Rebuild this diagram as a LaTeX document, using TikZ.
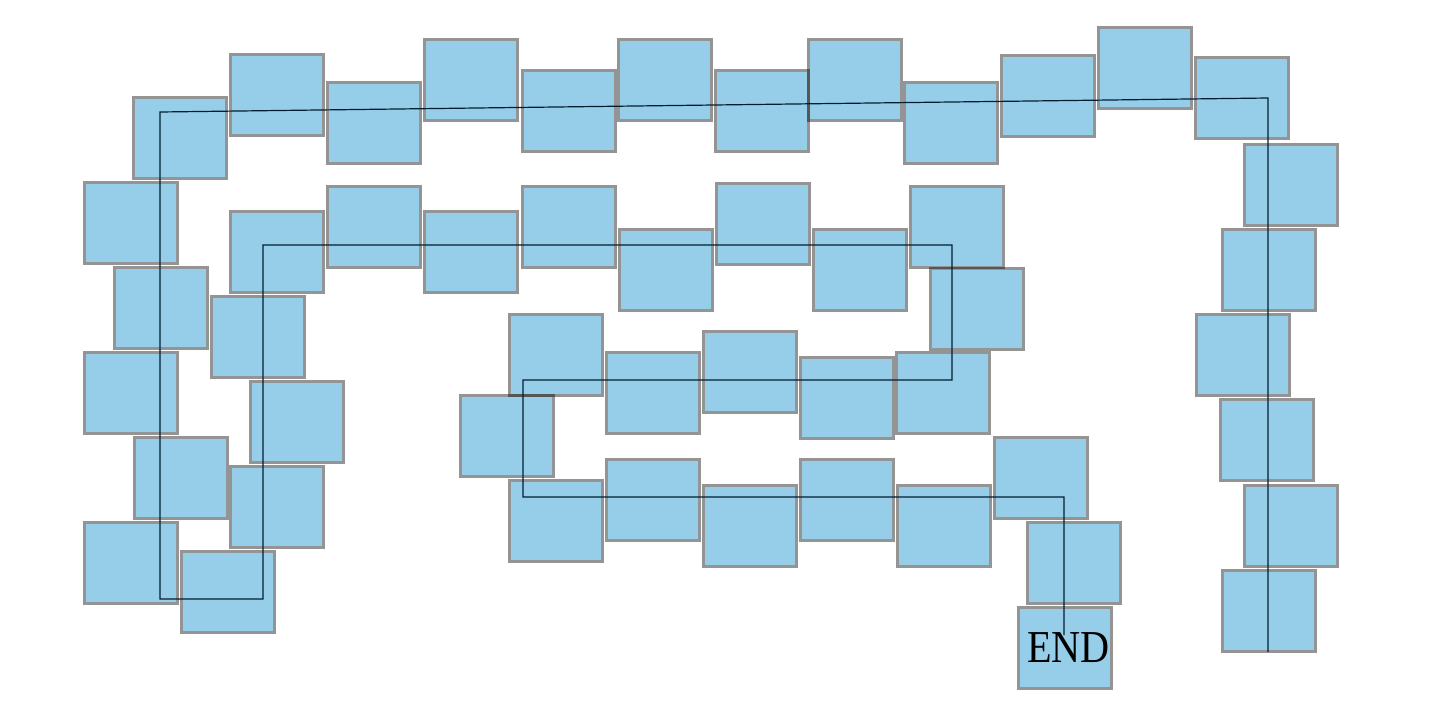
\documentclass[tikz,border=0pt]{standalone}
\usepackage{fontspec}
\setmainfont{Liberation Serif}
\definecolor{tilefill}{RGB}{150,205,233}
\definecolor{routeline}{RGB}{0,30,48}

\begin{document}
\begin{tikzpicture}[x=0.02cm, y=-0.02cm, line join=miter,
	tile/.style={rectangle, fill=tilefill, inner sep=0pt, outer sep=0.025cm,
		minimum width=1.81cm, minimum height=1.57cm},
	tilerim/.style={draw=black, draw opacity=0.42, line width=0.05cm},
	route/.style={draw=routeline, line width=0.024cm}]
	
	\useasboundingbox (0,0) rectangle (1437,717);
	
	%========================
	% tiles, from the bottom right round to END
	%========================
	\foreach \n/\x/\y in {
		1/1269/611, 2/1291/526, 3/1267/440, 4/1243/355, 5/1269/270,
		6/1291/185, 7/1242/98, 8/1145/68, 9/1048/96, 10/951/123,
		11/855/80, 12/762/111, 13/665/80, 14/569/111, 15/471/80,
		16/374/123, 17/277/95, 18/180/138, 19/131/223, 20/161/308,
		21/131/393, 22/181/478, 23/131/563, 24/228/592, 25/277/507,
		26/297/422, 27/258/337, 28/277/252, 29/374/227, 30/471/252,
		31/569/227, 32/666/270, 33/763/224, 34/860/270, 35/957/227,
		36/977/309, 37/943/393, 38/847/398, 39/750/372, 40/653/393,
		41/556/355, 42/507/436, 43/556/521, 44/653/500, 45/750/526,
		46/847/500, 47/944/526, 48/1041/478, 49/1074/563}
	\node[tile] (t\n) at (\x,\y) {};
	\node[tile, font=\fontsize{26}{26}\selectfont] (t50) at (1065,648) {\hspace{4pt}\scalebox{0.88}[1]{END}};
	
	% borders on top, so that overlaps show
	\foreach \n in {1,...,50}
	\draw[tilerim] (t\n.south west) rectangle (t\n.north east);
	
	%========================
	% route through the tiles
	%========================
	\coordinate (r0) at (1268,652);
	\coordinate (r1) at (1268,98);
	\coordinate (r2) at (160,112);
	\coordinate (r3) at (160,599);
	\coordinate (r4) at (263,599);
	\coordinate (r5) at (263,245);
	\coordinate (r6) at (952,245);
	\coordinate (r7) at (952,380);
	\coordinate (r8) at (523,380);
	\coordinate (r9) at (523,497);
	\coordinate (r10) at (1064,497);
	\coordinate (r11) at (1064,635);
	\draw[route] (r0) -- (r1) -- (r2) -- (r3) -- (r4) -- (r5) -- (r6)
	-- (r7) -- (r8) -- (r9) -- (r10) -- (r11);
	
\end{tikzpicture}
\end{document}
